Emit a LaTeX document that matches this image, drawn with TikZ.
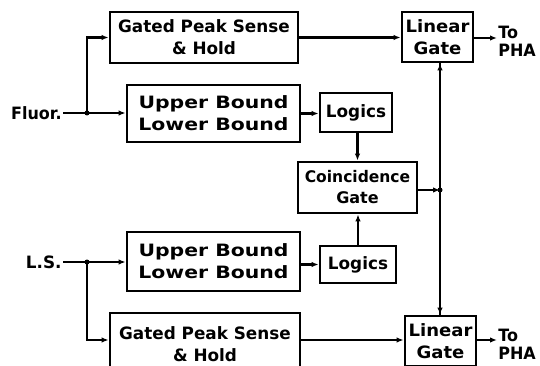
\documentclass[tikz,border=0pt]{standalone}
\usepackage{fontspec}
\usepackage{graphicx}
\newfontfamily\diagfont{DejaVu Sans Bold}
\newcommand\hstr[2]{\scalebox{#1}[1]{#2}}
\usetikzlibrary{arrows.meta}
\begin{document}
\begin{tikzpicture}[x=1pt,y=-1pt,
  line width=2.8pt,
  blk/.style={draw, rectangle, inner sep=0pt, align=center, font=\diagfont\fontsize{17}{22}\selectfont},
  lbl/.style={inner sep=0pt, align=left, font=\diagfont\fontsize{17}{18}\selectfont},
  arr/.style={-{Latex[length=7pt,width=5.5pt]}},
  dot/.style={circle, fill, inner sep=0pt, minimum size=5pt}
]
\useasboundingbox (0,0) rectangle (540,366);
\clip (0,0) rectangle (540,366);
% blocks
\node[blk, minimum width=188pt, minimum height=51pt] (gpsT) at (204,37.5) {\hstr{0.99}{Gated Peak Sense}\\\hstr{0.99}{\& Hold}};
\node[blk, minimum width=71pt, minimum height=50pt] (lgT) at (437.5,37) {\hstr{1.06}{Linear}\\\hstr{1.06}{Gate}};
\node[blk, minimum width=173pt, minimum height=57pt] (ublT) at (213.5,113.5) {\hstr{1.2}{Upper Bound}\\\hstr{1.2}{Lower Bound}};
\node[blk, minimum width=72pt, minimum height=39pt] (logT) at (356,112.5) {\hstr{0.99}{Logics}};
\node[blk, minimum width=119pt, minimum height=51pt, font=\diagfont\fontsize{16}{21}\selectfont] (coin) at (357.5,187.5) {\hstr{0.97}{Coincidence}\\\hstr{1.0}{Gate}};
\node[blk, minimum width=76pt, minimum height=37pt] (logB) at (358,264.5) {\hstr{0.99}{Logics}};
\node[blk, minimum width=173pt, minimum height=59pt] (ublB) at (213.5,261.5) {\hstr{1.2}{Upper Bound}\\\hstr{1.2}{Lower Bound}};
\node[blk, minimum width=190pt, minimum height=62pt] (gpsB) at (205,344) {\hstr{0.99}{Gated Peak Sense}\\\hstr{0.99}{\& Hold}};
\node[blk, minimum width=71pt, minimum height=50pt] (lgB) at (440.5,341) {\hstr{1.06}{Linear}\\\hstr{1.06}{Gate}};
% labels
\node[lbl, anchor=east] (fluor) at (63,113) {\hstr{0.94}{Fluor.}};
\node[lbl, anchor=east] (ls) at (63,262) {\hstr{0.99}{L.S.}};
\node[lbl, anchor=west] (phaT) at (497,41) {\hstr{0.94}{To}\\\hstr{0.94}{PHA}};
\node[lbl, anchor=west] (phaB) at (497,344) {\hstr{0.94}{To}\\\hstr{0.94}{PHA}};
% coordinates
\coordinate (jF) at (87,113);
\coordinate (jL) at (87,262);
\coordinate (vx) at (440,0);
% connectors
\draw[arr] (fluor.east) -- (ublT.west |- fluor.east);
\draw[arr] (jF) |- (gpsT.west);
\node[dot] at (jF) {};
\draw[arr] (ls.east) -- (ublB.west |- ls.east);
\draw[arr] (jL) |- (gpsB.west |- 0,340);
\node[dot] at (jL) {};
\draw[arr] (gpsT.east) -- (lgT.west |- gpsT.east);
\draw[arr] (gpsB.east |- 0,340) -- (lgB.west |- 0,340);
\draw[arr] (ublT.east) -- (logT.west |- ublT.east);
\draw[arr] (ublB.east |- logB.west) -- (logB.west);
\draw[arr] (logT.south -| coin.north) -- (coin.north);
\draw[arr] (logB.north) -- (logB.north |- coin.south);
\draw[arr] (coin.east |- 0,190) -- (vx |- 0,190);
\node[dot] at (vx |- 0,190) {};
\draw[arr] (vx |- lgB.north) -- (vx |- lgT.south);
\draw[arr] (vx |- lgT.south) -- (vx |- lgB.north);
\draw[arr] (lgT.east |- 0,38) -- (phaT.west |- 0,38);
\draw[arr] (lgB.east |- 0,340) -- (phaB.west |- 0,340);
\end{tikzpicture}
\end{document}
